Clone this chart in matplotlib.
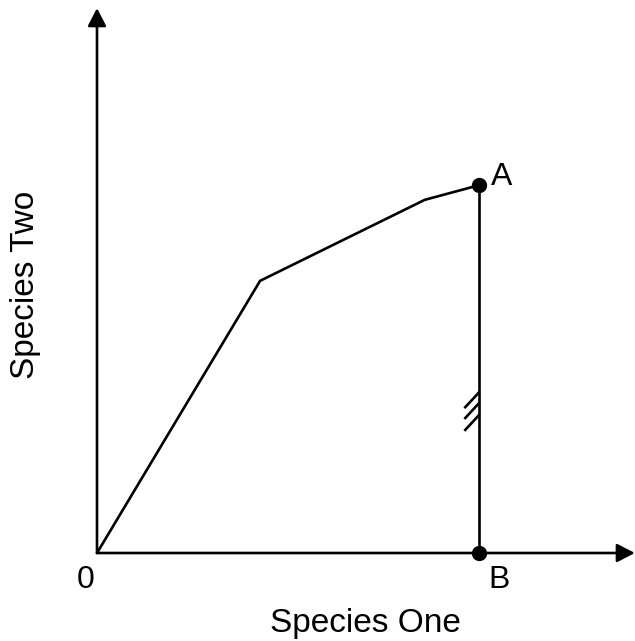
import matplotlib
matplotlib.use('Agg')
import matplotlib.pyplot as plt

# path of the curve, in axis units
curve_x = [0, 3.02, 6.07, 7.07]
curve_y = [0, 5.04, 6.54, 6.81]
point_labels = ['A', 'B']
point_x = [7.07, 7.07]
point_y = [6.81, 0]
x_axis_len = 9.96
y_axis_len = 10.09
# three hatch marks on the vertical line A-B
hatch_y = [2.70, 2.50, 2.28]

plt.rcParams['font.family'] = ['Liberation Sans', 'DejaVu Sans']

fig = plt.figure(figsize=(6.35, 6.41), dpi=100)
ax = fig.add_axes([0, 0, 1, 1])
ax.set_xlim(-97 / 54, 538 / 54)
ax.set_ylim(-88 / 54, 553 / 54)
ax.axis('off')

lw = 1.9
arrow = dict(arrowstyle='-|>,head_length=1.08,head_width=0.56',
             lw=lw, color='black', shrinkA=0, shrinkB=0)
ax.annotate('', xy=(x_axis_len, 0), xytext=(0, 0), arrowprops=arrow)
ax.annotate('', xy=(0, y_axis_len), xytext=(0, 0), arrowprops=arrow)

ax.plot(curve_x, curve_y, color='black', lw=lw, solid_capstyle='round')
ax.plot(point_x, point_y, color='black', lw=lw)
ax.plot(point_x, point_y, 'o', color='black', markersize=10)

for hy in hatch_y:
    ax.plot([point_x[0] - 0.25, point_x[0]], [hy, hy + 0.27], color='black', lw=1.9)

fs = 23
ax.text(-0.204, -0.648, '0', fontsize=fs, ha='center', va='baseline')
ax.text(7.29, 6.815, point_labels[0], fontsize=fs, ha='left', va='baseline')
ax.text(7.25, -0.648, point_labels[1], fontsize=fs, ha='left', va='baseline')
ax.text(4.98, -1.463, 'Species One', fontsize=24, ha='center', va='baseline')
ax.text(-1.315, 4.963, 'Species Two', fontsize=24, ha='center', va='center',
        rotation=90)

fig.savefig('out.png', dpi=100)
